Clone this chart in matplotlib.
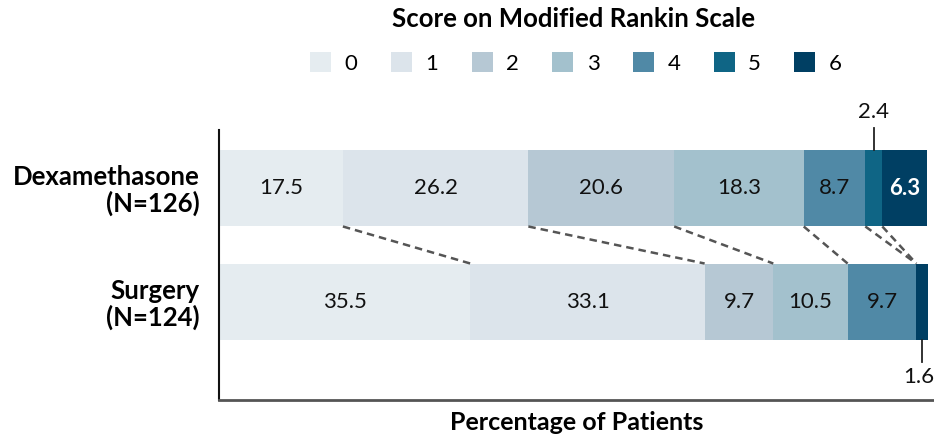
import matplotlib
matplotlib.use("Agg")
import matplotlib.pyplot as plt
from matplotlib.patches import Patch
import numpy as np

plt.rcParams['font.family'] = ['Lato', 'DejaVu Sans']

categories = ['0', '1', '2', '3', '4', '5', '6']
groups = ['Dexamethasone\n(N=126)', 'Surgery\n(N=124)']
dexamethasone = [17.5, 26.2, 20.6, 18.3, 8.7, 2.4, 6.3]
surgery = [35.5, 33.1, 9.7, 10.5, 9.7, 0.0, 1.6]
colors = ['#e5ecf0', '#dce4eb', '#b6c8d4', '#a3c1cd', '#5089a6', '#0f6585', '#003f63']
text_colors = ['#111111'] * 6 + ['white']

fig = plt.figure(figsize=(9.34, 4.48), dpi=100)
ax = fig.add_axes([219/934, 1 - 400/448, 715/934, 270/448])

series = [dexamethasone, surgery]
ypos = [1, 0]
h = 0.675
for vals, y in zip(series, ypos):
    left = 0.0
    for i, v in enumerate(vals):
        if v > 0:
            ax.barh(y, v, left=left, height=h, color=colors[i], edgecolor='none')
            if v >= 3:
                ax.text(left + v / 2, y, f"{v:.1f}", ha='center', va='center',
                        fontsize=16, color=text_colors[i],
                        fontweight='bold' if i == 6 else 'normal')
        left += v

# small values annotated outside
px = 1 / 114.0
dcum = np.cumsum(dexamethasone)
scum = np.cumsum(surgery)
# dexamethasone small segment (category 5)
xd = dcum[4] + dexamethasone[5] / 2
ax.plot([xd, xd], [1 + h/2, 1 + h/2 + 22*px], color='#222222', lw=1.3, clip_on=False)
ax.text(xd, 1 + h/2 + 38*px, f"{dexamethasone[5]:.1f}", ha='center', va='center',
        fontsize=16, color='#111111', clip_on=False)
# surgery small segment (category 6)
xs = scum[5] + surgery[6] / 2
ax.plot([xs, xs], [-h/2, -h/2 - 22*px], color='#222222', lw=1.3, clip_on=False)
ax.text(xs - 0.4, -h/2 - 37*px, f"{surgery[6]:.1f}", ha='center', va='center',
        fontsize=16, color='#111111', clip_on=False)

# connecting dashed lines
for i in range(6):
    ax.plot([dcum[i], scum[i]], [1 - h/2, h/2], color='#555555', lw=1.8,
            dashes=(3, 2))

ax.set_xlim(0, 101)
ax.set_ylim(-0.86, 1.509)
ax.set_yticks(ypos)
ax.set_yticklabels(groups, fontsize=18.5, fontweight='bold', ha='right', linespacing=1.05)
ax.tick_params(axis='y', length=0, pad=14)
ax.set_xticks([])
for s in ['top', 'right']:
    ax.spines[s].set_visible(False)
ax.spines['left'].set_color('#111111')
ax.spines['left'].set_linewidth(1.5)
ax.spines['bottom'].set_color('#555555')
ax.spines['bottom'].set_linewidth(2)
ax.set_xlabel('Percentage of Patients', fontsize=18, fontweight='bold', labelpad=8)

fig.text(574/934, 1 - 19/448, 'Score on Modified Rankin Scale', ha='center', va='center',
         fontsize=18.5, fontweight='bold')
handles = [Patch(facecolor=c, edgecolor='none') for c in colors]
fig.legend(handles, categories, loc='center', bbox_to_anchor=(576/934, 1 - 63/448),
           ncol=7, frameon=False, fontsize=16, handlelength=0.95, handleheight=0.95,
           handletextpad=0.6, columnspacing=1.5)

fig.savefig('out.png', dpi=100)
